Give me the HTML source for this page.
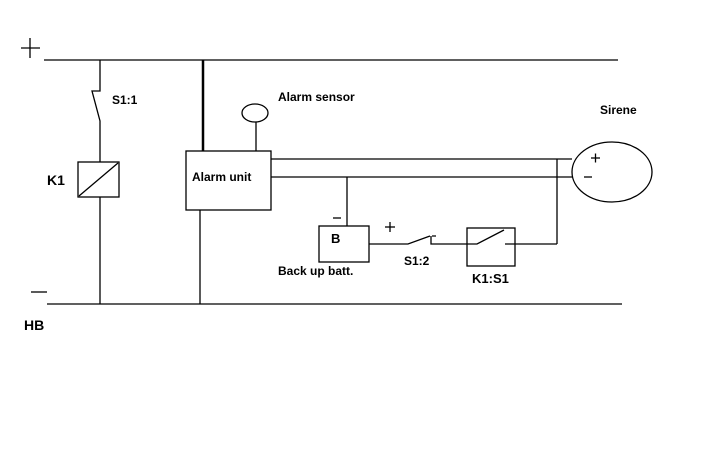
<!DOCTYPE html>
<html><head><style>body{margin:0;background:#fff}svg{display:block}text{font-family:"Liberation Sans",Arial,sans-serif;font-weight:bold;fill:#000}</style></head><body>
<svg width="720" height="450" viewBox="0 0 720 450" xmlns="http://www.w3.org/2000/svg">
<g stroke="#000" stroke-width="1.3" fill="none">
<line x1="44" y1="60" x2="618" y2="60"/>
<line x1="47" y1="304" x2="622" y2="304"/>
<line x1="21" y1="48" x2="40" y2="48"/><line x1="30" y1="38" x2="30" y2="58"/>
<line x1="31" y1="292" x2="47" y2="292"/>
<polyline points="100,60 100,91 92,91 100,121 100,162"/>
<rect x="78" y="162" width="41" height="35"/>
<line x1="79" y1="196" x2="118" y2="163"/>
<line x1="100" y1="197" x2="100" y2="304"/>
<line x1="203" y1="60" x2="203" y2="151" stroke-width="2.5"/>
<rect x="186" y="151" width="85" height="59"/>
<line x1="200" y1="210" x2="200" y2="304"/>
<ellipse cx="255" cy="113" rx="13" ry="9"/>
<line x1="256" y1="122" x2="256" y2="151"/>
<line x1="271" y1="159" x2="572" y2="159"/>
<line x1="271" y1="177" x2="572" y2="177"/>
<line x1="557" y1="159" x2="557" y2="244"/>
<ellipse cx="612" cy="172" rx="40" ry="30"/>
<line x1="591" y1="158" x2="600" y2="158"/><line x1="595.5" y1="153.5" x2="595.5" y2="162.5"/>
<line x1="584" y1="177" x2="592" y2="177"/>
<line x1="347" y1="177" x2="347" y2="226"/>
<rect x="319" y="226" width="50" height="36"/>
<line x1="333" y1="218" x2="341" y2="218"/>
<line x1="385" y1="227" x2="395" y2="227"/><line x1="390" y1="222" x2="390" y2="232"/>
<polyline points="369,244 408,244 430,236"/>
<polyline points="432,236 436,236 433,236"/>
<polyline points="431,236 431,244 467,244"/>
<rect x="467" y="228" width="48" height="38"/>
<polyline points="467,244 477,244 504,230"/>
<polyline points="505,244 515,244 557,244"/>
</g>
<text x="278" y="101" font-size="12">Alarm sensor</text>
<text x="192" y="181" font-size="12">Alarm unit</text>
<text x="47" y="185" font-size="14">K1</text>
<text x="112" y="104" font-size="12">S1:1</text>
<text x="24" y="330" font-size="14">HB</text>
<text x="600" y="114" font-size="12">Sirene</text>
<text x="331" y="243" font-size="13">B</text>
<text x="278" y="275" font-size="12">Back up batt.</text>
<text x="404" y="265" font-size="12">S1:2</text>
<text x="472" y="283" font-size="13">K1:S1</text>
</svg>
</body></html>
